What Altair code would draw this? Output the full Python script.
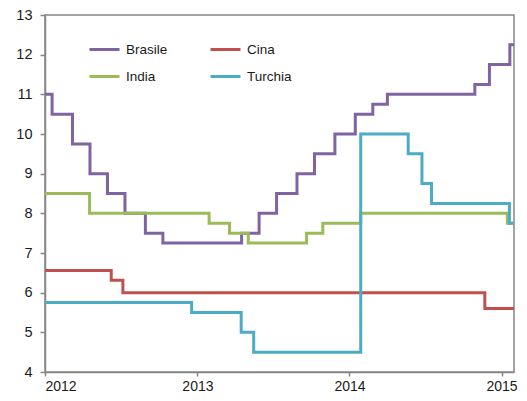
import altair as alt
import pandas as pd

# Series: dates of rate changes and values (step-after), last date = end of data
brasile_dates = ["2012-01-01", "2012-01-18", "2012-03-07", "2012-04-18", "2012-05-30",
                 "2012-07-11", "2012-08-29", "2012-10-10", "2013-04-17", "2013-05-29",
                 "2013-07-10", "2013-08-28", "2013-10-09", "2013-11-27", "2014-01-15",
                 "2014-02-26", "2014-04-02", "2014-10-29", "2014-12-03", "2015-01-21",
                 "2015-01-31"]
brasile_vals = [11.0, 10.5, 9.75, 9.0, 8.5, 8.0, 7.5, 7.25, 7.5, 8.0, 8.5, 9.0, 9.5,
                10.0, 10.5, 10.75, 11.0, 11.25, 11.75, 12.25, 12.25]

cina_dates = ["2012-01-01", "2012-06-08", "2012-07-06", "2014-11-22", "2015-01-31"]
cina_vals = [6.56, 6.31, 6.0, 5.6, 5.6]

india_dates = ["2012-01-01", "2012-04-17", "2013-01-29", "2013-03-19", "2013-05-03",
               "2013-09-20", "2013-10-29", "2014-01-28", "2015-01-15", "2015-01-31"]
india_vals = [8.5, 8.0, 7.75, 7.5, 7.25, 7.5, 7.75, 8.0, 7.75, 7.75]

turchia_dates = ["2012-01-01", "2012-12-18", "2013-04-16", "2013-05-16", "2014-01-28",
                 "2014-05-22", "2014-06-24", "2014-07-17", "2015-01-20", "2015-01-31"]
turchia_vals = [5.75, 5.5, 5.0, 4.5, 10.0, 9.5, 8.75, 8.25, 7.75, 7.75]

paesi = ["Brasile", "Cina", "India", "Turchia"]
colori = ["#8064A2", "#C0504D", "#9BBB59", "#4BACC6"]
ordine_legenda = ["Brasile", "India", "Cina", "Turchia"]
anni = [2012, 2013, 2014, 2015]

rows = []
for name, ds, vs in [("Brasile", brasile_dates, brasile_vals),
                     ("Cina", cina_dates, cina_vals),
                     ("India", india_dates, india_vals),
                     ("Turchia", turchia_dates, turchia_vals)]:
    for d, v in zip(ds, vs):
        rows.append({"paese": name, "data": d, "tasso": v})
df = pd.DataFrame(rows)

font = "Liberation Sans"
gray = "#868686"

chart = alt.Chart(df).mark_line(interpolate="step-after", strokeWidth=3, clip=True).encode(
    x=alt.X("data:T",
            scale=alt.Scale(type="utc",
                            domain=[alt.DateTime(year=2012, month=1, date=1, utc=True),
                                    alt.DateTime(year=2015, month=1, date=31, utc=True)]),
            axis=alt.Axis(title=None, format="%Y", formatType="utc",
                          values=[alt.DateTime(year=y, month=1, date=1, utc=True) for y in anni],
                          grid=False, tickSize=4, labelPadding=3, labelFontSize=14)),
    y=alt.Y("tasso:Q",
            scale=alt.Scale(domain=[4, 13], nice=False, zero=False),
            axis=alt.Axis(title=None, values=list(range(4, 14)), grid=False,
                          tickSize=5, labelPadding=8, labelFontSize=14.5)),
    color=alt.Color("paese:N",
                    scale=alt.Scale(domain=paesi, range=colori),
                    legend=alt.Legend(title=None, orient="none", legendX=43, legendY=18,
                                      values=ordine_legenda,
                                      columns=2, columnPadding=36, rowPadding=4,
                                      symbolType="stroke", symbolSize=900,
                                      symbolStrokeWidth=3, labelOffset=5,
                                      labelFontSize=13.5, padding=0)),
).properties(
    width=469, height=357,
    autosize=alt.AutoSizeParams(type="none"),
    padding={"left": 37, "top": 7, "right": 5, "bottom": 21},
).configure_view(
    stroke=gray, strokeWidth=1.5
).configure_axis(
    domainColor=gray, domainWidth=1.5, tickColor=gray, tickWidth=1.5,
    labelColor="#1a1a1a", labelFont=font
).configure_legend(
    labelFont=font, labelColor="#1a1a1a"
)

chart.save("out.html", embed_options={"renderer": "svg", "actions": False})
